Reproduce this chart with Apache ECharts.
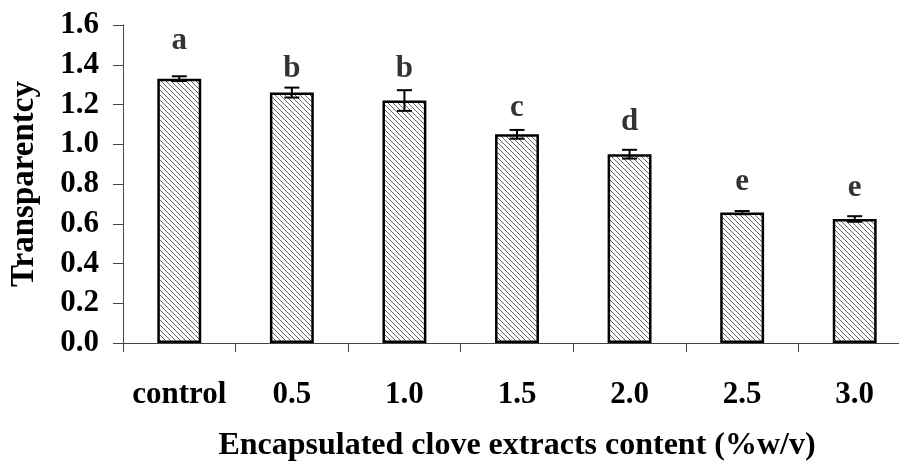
<!DOCTYPE html>
<html>
<head>
<meta charset="utf-8">
<script src="https://cdn.jsdelivr.net/npm/echarts@6/dist/echarts.min.js"></script>
<style>
  html, body { margin: 0; padding: 0; background: #fff; }
  #chart { width: 899px; height: 461px; }
</style>
</head>
<body>
<div id="chart"></div>
<script>
// Transparency of films vs. encapsulated clove extract content
const categories = ['control', '0.5', '1.0', '1.5', '2.0', '2.5', '3.0'];
const transparency = [1.33, 1.26, 1.22, 1.05, 0.95, 0.656, 0.624];
const errorSD = [0.012, 0.025, 0.052, 0.022, 0.022, 0.008, 0.014];
const letters = ['a', 'b', 'b', 'c', 'd', 'e', 'e'];
// value-scale heights where the significance letters sit
const letterHeights = [1.52, 1.38, 1.38, 1.18, 1.11, 0.81, 0.78];
const yTicks = { min: 0, max: 1.6, step: 0.2 };

const FONT = '"Liberation Serif", "Times New Roman", serif';

// diagonal hatch tile for the bar fill
function hatchTile() {
  const s = 5;
  const c = document.createElement('canvas');
  c.width = s; c.height = s;
  const g = c.getContext('2d');
  g.fillStyle = '#ffffff';
  g.fillRect(0, 0, s, s);
  g.strokeStyle = '#666666';
  g.lineWidth = 1;
  for (const off of [-s, 0, s]) {
    g.beginPath();
    g.moveTo(off - 1, -1);
    g.lineTo(off + s + 1, s + 1);
    g.stroke();
  }
  return c;
}

const chart = echarts.init(document.getElementById('chart'), null, { renderer: 'canvas' });

const errData = categories.map((_, i) => [i, transparency[i] - errorSD[i], transparency[i] + errorSD[i]]);
const letterData = categories.map((_, i) => [i, letterHeights[i], letters[i]]);

chart.setOption({
  animation: false,
  backgroundColor: '#ffffff',
  grid: { left: 123, top: 25, bottom: 118, right: -12, containLabel: false, outerBoundsMode: 'none' },
  xAxis: {
    type: 'category',
    data: categories,
    boundaryGap: true,
    axisLine: { lineStyle: { color: '#444', width: 1 } },
    axisTick: { show: true, length: 9, lineStyle: { color: '#444' } },
    axisLabel: {
      interval: 0,
      margin: 36,
      color: '#000',
      fontFamily: FONT,
      fontWeight: 'bold',
      fontSize: 31
    },
    name: 'Encapsulated clove extracts content (%w/v)',
    nameLocation: 'middle',
    nameGap: 87,
    nameTextStyle: { color: '#000', fontFamily: FONT, fontWeight: 'bold', fontSize: 32 }
  },
  yAxis: {
    type: 'value',
    min: yTicks.min,
    max: yTicks.max,
    interval: yTicks.step,
    axisLine: { show: true, lineStyle: { color: '#444', width: 1 } },
    axisTick: { show: true, length: 10, lineStyle: { color: '#444' } },
    splitLine: { show: false },
    axisLabel: {
      margin: 24,
      color: '#000',
      fontFamily: FONT,
      fontWeight: 'bold',
      fontSize: 31,
      formatter: v => v.toFixed(1)
    },
    name: 'Transparentcy',
    nameLocation: 'middle',
    nameGap: 82,
    nameRotate: 90,
    nameTextStyle: { color: '#000', fontFamily: FONT, fontWeight: 'bold', fontSize: 33 }
  },
  series: [
    {
      type: 'bar',
      data: transparency,
      barWidth: '39%',
      itemStyle: {
        color: { image: hatchTile(), repeat: 'repeat' },
        borderColor: '#000',
        borderWidth: 2.5
      },
      z: 2
    },
    {
      type: 'custom',
      data: errData,
      z: 5,
      renderItem: function (params, api) {
        const x = api.value(0);
        const lo = api.coord([x, api.value(1)]);
        const hi = api.coord([x, api.value(2)]);
        const hw = 7.5;
        const st = { stroke: '#000', lineWidth: 2 };
        return {
          type: 'group',
          children: [
            { type: 'line', shape: { x1: lo[0], y1: lo[1], x2: hi[0], y2: hi[1] }, style: st },
            { type: 'line', shape: { x1: lo[0] - hw, y1: lo[1], x2: lo[0] + hw, y2: lo[1] }, style: st },
            { type: 'line', shape: { x1: hi[0] - hw, y1: hi[1], x2: hi[0] + hw, y2: hi[1] }, style: st }
          ]
        };
      }
    },
    {
      type: 'scatter',
      data: letterData,
      symbolSize: 0,
      z: 6,
      label: {
        show: true,
        position: 'inside',
        formatter: p => p.value[2],
        color: '#000',
        fontFamily: FONT,
        fontWeight: 'bold',
        fontSize: 31
      }
    }
  ]
});
</script>
</body>
</html>
